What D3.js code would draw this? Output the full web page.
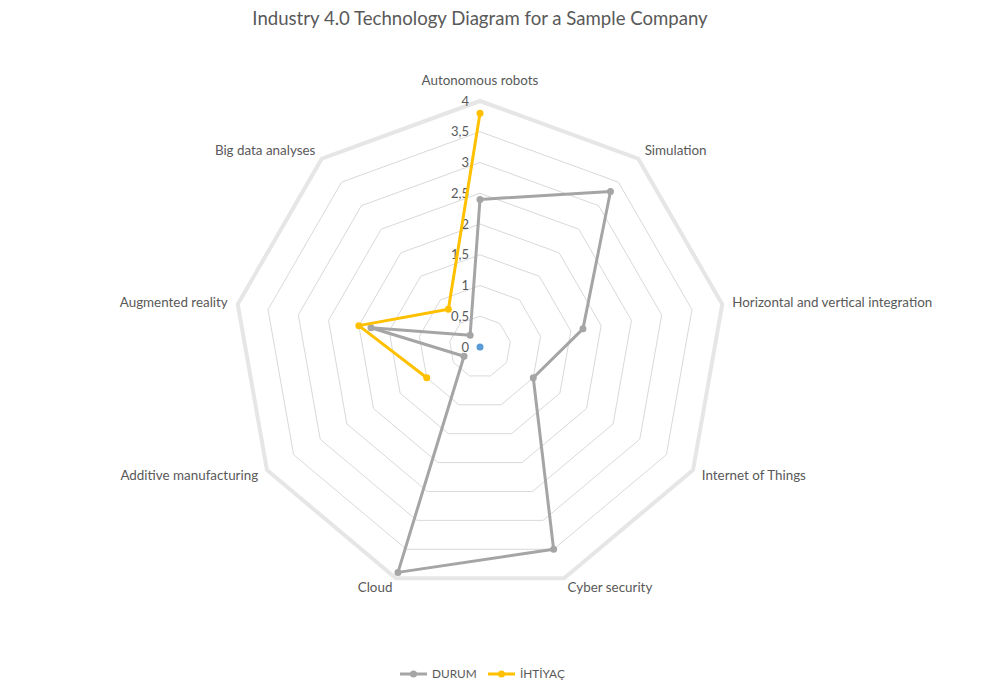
<!DOCTYPE html>
<html>
<head>
<meta charset="utf-8">
<script src="https://cdn.jsdelivr.net/npm/d3@7"></script>
<style>
  html, body { margin: 0; padding: 0; background: #fff; }
  svg { display: block; }
  text { font-family: Lato, "Open Sans", sans-serif; fill: #595959; }
</style>
</head>
<body>
<svg id="chart" width="1002" height="694"></svg>
<script>
// ---- data ----
const categories = ["Autonomous robots", "Simulation", "Horizontal and vertical integration",
  "Internet of Things", "Cyber security", "Cloud", "Additive manufacturing",
  "Augmented reality", "Big data analyses"];
const durum   = [2.4, 3.3, 1.7, 1.0, 3.5, 3.9, 0.3, 1.8, 0.25];
const ihtiyac = [3.8, null, null, null, null, null, 1.0, 2.0, 0.8];
const extraPoint = [0];
const tickValues = [0, 0.5, 1, 1.5, 2, 2.5, 3, 3.5, 4];
const tickLabels = ["0", "0,5", "1", "1,5", "2", "2,5", "3", "3,5", "4"];
const seriesNames = ["DURUM", "İHTİYAÇ"];
const title = "Industry 4.0 Technology Diagram for a Sample Company";

// ---- layout ----
const cx = 480, cy = 347, R = 246;
const svg = d3.select("#chart");
const r = d3.scaleLinear().domain([0, 4]).range([0, R]);
const ang = d3.scalePoint().domain(d3.range(categories.length)).range([0, 2 * Math.PI * (categories.length - 1) / categories.length]);
const pt = (i, v) => [cx + r(v) * Math.sin(ang(i)), cy - r(v) * Math.cos(ang(i))];

// title
svg.append("text").attr("x", 480).attr("y", 25).attr("text-anchor", "middle")
  .style("font-size", "18.6px").text(title);

// grid rings
const g = svg.append("g");
tickValues.filter(v => v > 0).forEach(v => {
  const pts = categories.map((c, i) => pt(i, v));
  g.append("path")
    .attr("d", d3.line()(pts) + "Z")
    .attr("fill", "none")
    .attr("stroke", v === 4 ? "#e6e6e6" : "#d9d9d9")
    .attr("stroke-width", v === 4 ? 4 : 1)
    .attr("stroke-linejoin", "round");
});

// tick labels
tickValues.forEach((v, k) => {
  g.append("text").attr("x", 469).attr("y", cy - r(v)).attr("dy", "0.35em")
    .attr("text-anchor", "end").style("font-size", "13px").text(tickLabels[k]);
});

// category labels
categories.forEach((c, i) => {
  const a = ang(i);
  const [x, y] = pt(i, 4.165);
  const s = Math.sin(a);
  let anchor = Math.abs(s) < 0.05 ? "middle" : (s > 0 ? "start" : "end");
  const t = g.append("text").attr("x", x).attr("y", i === 0 ? y - 6 : y)
    .attr("text-anchor", anchor).style("font-size", "13.4px").text(c);
  if (i !== 0) t.attr("dy", "0.35em");
});

// series
function drawSeries(vals, color, closed) {
  const n = vals.length;
  const segs = [];
  for (let i = 0; i < n; i++) {
    const j = (i + 1) % n;
    if (!closed && j === 0) continue;
    if (vals[i] != null && vals[j] != null) segs.push([pt(i, vals[i]), pt(j, vals[j])]);
  }
  const sg = svg.append("g");
  sg.selectAll("path").data(segs).join("path")
    .attr("d", d => d3.line()(d))
    .attr("stroke", color).attr("stroke-width", 3).attr("fill", "none")
    .attr("stroke-linecap", "round");
  sg.selectAll("circle").data(vals.map((v, i) => [i, v]).filter(d => d[1] != null)).join("circle")
    .attr("cx", d => pt(d[0], d[1])[0]).attr("cy", d => pt(d[0], d[1])[1])
    .attr("r", 3.5).attr("fill", color);
}
drawSeries(durum, "#a5a5a5", true);
drawSeries(ihtiyac, "#ffc000", true);
drawSeries(extraPoint, "#5b9bd5", false);

// legend
const colors = ["#a5a5a5", "#ffc000"];
const lx = [400, 488];
seriesNames.forEach((name, k) => {
  const lg = svg.append("g").attr("transform", `translate(${lx[k]},674)`);
  lg.append("line").attr("x1", 0).attr("x2", 27).attr("y1", 0).attr("y2", 0)
    .attr("stroke", colors[k]).attr("stroke-width", 3);
  lg.append("circle").attr("cx", 13.5).attr("cy", 0).attr("r", 3.5).attr("fill", colors[k]);
  lg.append("text").attr("x", 32).attr("y", 0).attr("dy", "0.35em").style("font-size", "11.8px").text(name);
});
</script>
</body>
</html>
